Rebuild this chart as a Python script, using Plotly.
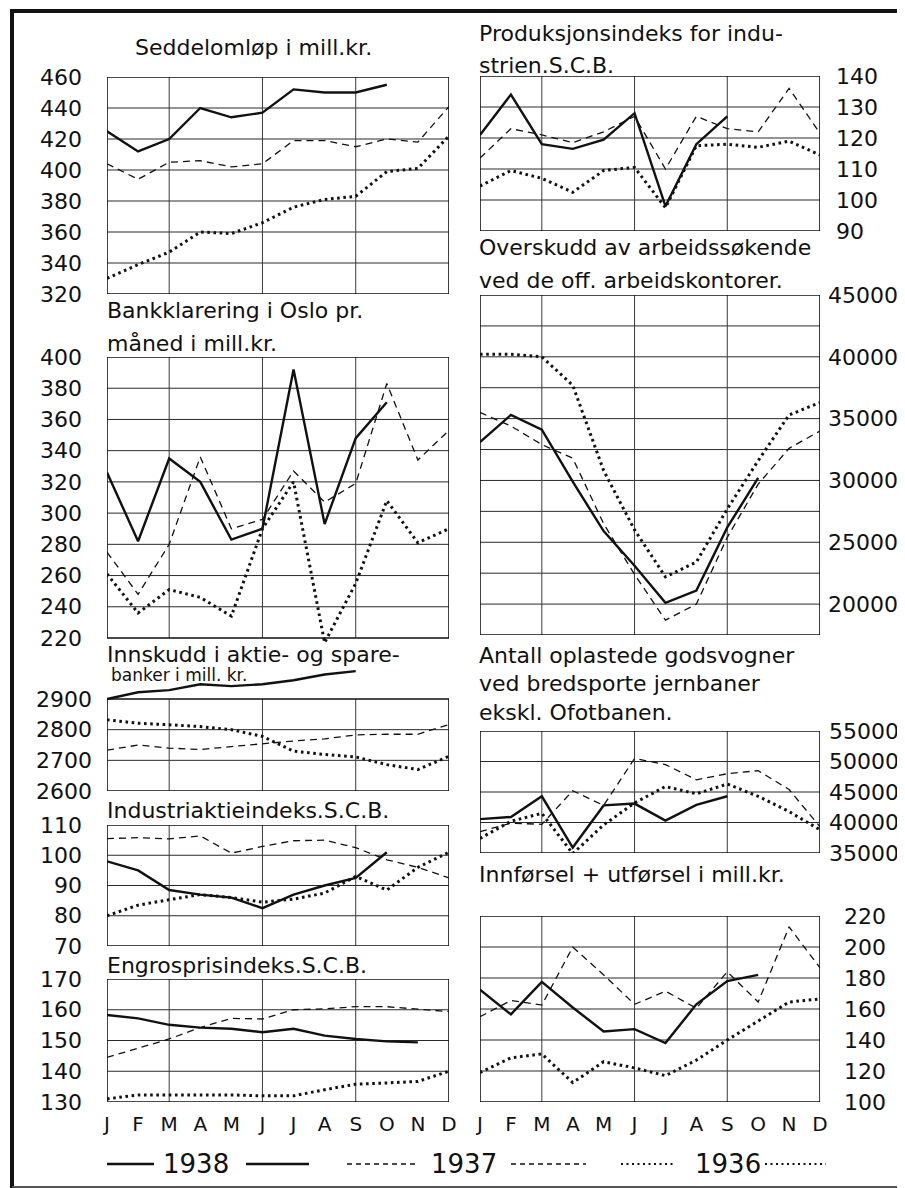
import plotly.graph_objects as go

# ---------------- data ----------------
months = ["J", "F", "M", "A", "M", "J", "J", "A", "S", "O", "N", "D"]
years = ["1938", "1937", "1936"]

# Seddelomløp i mill.kr.
sed_1938 = [425, 412, 420, 440, 434, 437, 452, 450, 450, 455]
sed_1937 = [404, 394, 405, 406, 402, 404, 419, 419, 415, 420, 418, 441]
sed_1936 = [330, 339, 347, 360, 359, 366, 376, 381, 383, 399, 401, 422]

# Bankklarering i Oslo pr. måned i mill.kr.
bank_1938 = [326, 282, 335, 320, 283, 290, 392, 293, 348, 371]
bank_1937 = [275, 248, 280, 336, 290, 296, 327, 307, 319, 383, 334, 353]
bank_1936 = [261, 236, 251, 246, 234, 290, 320, 217, 255, 308, 281, 290]

# Innskudd i aktie- og sparebanker i mill. kr.
inn_1938 = [2900, 2922, 2929, 2948, 2942, 2948, 2961, 2980, 2991]
inn_1937 = [2733, 2750, 2740, 2735, 2745, 2755, 2763, 2770, 2783, 2785, 2785, 2817]
inn_1936 = [2832, 2821, 2816, 2810, 2800, 2778, 2730, 2719, 2711, 2686, 2670, 2713]

# Industriaktieindeks S.C.B.
akt_1938 = [98, 95, 88.5, 87, 86, 82.5, 87, 90, 92.5, 101]
akt_1937 = [105.5, 105.8, 105.4, 106.4, 100.7, 102.9, 104.8, 105, 102.5, 98.5, 96, 92.5]
akt_1936 = [80, 83.5, 85.3, 87, 86, 84.5, 85.5, 87.5, 93, 88.5, 96, 101]

# Engrosprisindeks S.C.B.
eng_1938 = [158.3, 157.2, 155.1, 154.2, 153.8, 152.7, 153.8, 151.6, 150.5, 149.7, 149.4]
eng_1937 = [144.5, 147.5, 150.5, 154.2, 157.2, 157, 160, 160.3, 161, 161, 160.3, 159.4]
eng_1936 = [131, 132.3, 132.3, 132.3, 132.3, 132, 132, 134, 135.8, 136.2, 136.7, 140]

# Produksjonsindeks for industrien S.C.B.
prod_1938 = [121, 134, 118, 116.5, 119.5, 128, 98, 118, 127]
prod_1937 = [113.5, 123, 121, 118.5, 122, 127, 110, 127, 123, 122, 136, 121.5]
prod_1936 = [104.5, 109.5, 107, 102.5, 109.5, 110.5, 97.5, 117.5, 118, 117, 119, 114.5]

# Overskudd av arbeidssøkende
ovr_1938 = [33100, 35300, 34100, 29900, 25900, 23100, 20100, 21100, 26200, 30200]
ovr_1937 = [35500, 34400, 32900, 31800, 26500, 22400, 18700, 20000, 25400, 29700, 32600, 34000]
ovr_1936 = [40200, 40200, 40000, 37700, 30800, 26000, 22200, 23400, 27700, 31600, 35300, 36300]

# Antall oplastede godsvogner
gods_1938 = [40550, 40900, 44300, 35900, 42800, 43100, 40300, 42900, 44300]
gods_1937 = [38500, 39900, 39700, 45200, 42800, 50500, 49500, 47000, 48000, 48500, 45400, 39300]
gods_1936 = [37400, 40200, 41500, 34900, 39600, 43200, 45900, 44700, 46300, 44300, 41800, 38800]

# Innførsel + utførsel i mill.kr.
ut_1938 = [172.5, 156.5, 177.5, 161, 145.5, 147, 138, 163, 178, 182]
ut_1937 = [155, 165.5, 162.5, 200, 182, 163, 171.5, 160.5, 184, 164.5, 213, 186.5]
ut_1936 = [119, 128.5, 131, 112.5, 126, 122, 117, 127, 140, 152, 164.5, 166.5]

# tick values
sed_ticks = [320, 340, 360, 380, 400, 420, 440, 460]
bank_ticks = [220, 240, 260, 280, 300, 320, 340, 360, 380, 400]
inn_ticks = [2600, 2700, 2800, 2900]
akt_ticks = [70, 80, 90, 100, 110]
eng_ticks = [130, 140, 150, 160, 170]
prod_ticks = [90, 100, 110, 120, 130, 140]
ovr_ticks = [20000, 25000, 30000, 35000, 40000, 45000]
ovr_grid = [17500, 20000, 22500, 25000, 27500, 30000, 32500, 35000, 37500, 40000, 42500, 45000]
gods_ticks = [35000, 40000, 45000, 50000, 55000]
ut_ticks = [100, 120, 140, 160, 180, 200, 220]

# ---------------- layout helpers ----------------
W, H = 905, 1188
FONT = "DejaVu Sans"
INK = "#111111"


def px(x):
    return x / W


def py(y):
    return 1 - y / H


LEFT = (99, 441)
RIGHT = (472, 812)

panels = [
    dict(s=(sed_1938, sed_1937, sed_1936), cols=LEFT, T=69, B=286, lo=320, hi=460,
         alo=320, ahi=460, ticks=sed_ticks, grid=sed_ticks, side="left", so=24),
    dict(s=(bank_1938, bank_1937, bank_1936), cols=LEFT, T=349, B=630, lo=220, hi=400,
         alo=214, ahi=400, ticks=bank_ticks, grid=bank_ticks, side="left", so=24),
    dict(s=(inn_1938, inn_1937, inn_1936), cols=LEFT, T=691, B=783, lo=2600, hi=2900,
         alo=2600, ahi=3008, ticks=inn_ticks, grid=inn_ticks, side="left", so=14),
    dict(s=(akt_1938, akt_1937, akt_1936), cols=LEFT, T=817, B=938, lo=70, hi=110,
         alo=70, ahi=110, ticks=akt_ticks, grid=akt_ticks, side="left", so=24),
    dict(s=(eng_1938, eng_1937, eng_1936), cols=LEFT, T=971, B=1094, lo=130, hi=170,
         alo=130, ahi=170, ticks=eng_ticks, grid=eng_ticks, side="left", so=24, months=True),
    dict(s=(prod_1938, prod_1937, prod_1936), cols=RIGHT, T=68, B=223, lo=90, hi=140,
         alo=90, ahi=140, ticks=prod_ticks, grid=prod_ticks, side="right", so=15),
    dict(s=(ovr_1938, ovr_1937, ovr_1936), cols=RIGHT, T=287, B=627, lo=17500, hi=45000,
         alo=17500, ahi=45000, ticks=ovr_ticks, grid=ovr_grid, side="right", so=7),
    dict(s=(gods_1938, gods_1937, gods_1936), cols=RIGHT, T=723, B=845, lo=35000, hi=55000,
         alo=35000, ahi=55000, ticks=gods_ticks, grid=gods_ticks, side="right", so=8),
    dict(s=(ut_1938, ut_1937, ut_1936), cols=RIGHT, T=908, B=1094, lo=100, hi=220,
         alo=100, ahi=220, ticks=ut_ticks, grid=ut_ticks, side="right", so=23, months=True),
]

styles = [
    dict(color=INK, width=2.4, dash="solid"),
    dict(color=INK, width=1.3, dash="7px,5px"),
    dict(color=INK, width=3.0, dash="2.6px,3.6px"),
]

fig = go.Figure()
shapes = []

for i, p in enumerate(panels, start=1):
    xa = "x" if i == 1 else f"x{i}"
    ya = "y" if i == 1 else f"y{i}"
    xkey = "xaxis" if i == 1 else f"xaxis{i}"
    ykey = "yaxis" if i == 1 else f"yaxis{i}"
    ppu = (p["B"] - p["T"]) / (p["hi"] - p["lo"])
    top = p["T"] - (p["ahi"] - p["hi"]) * ppu
    bot = p["B"] + (p["lo"] - p["alo"]) * ppu

    for ser, yr, st in zip(p["s"], years, styles):
        fig.add_trace(go.Scatter(
            x=list(range(len(ser))), y=ser, mode="lines", name=yr,
            line=st, xaxis=xa, yaxis=ya, showlegend=False, hoverinfo="skip"))

    show_m = p.get("months", False)
    fig.layout[xkey] = dict(
        domain=[px(p["cols"][0]), px(p["cols"][1])], range=[0, 11],
        anchor=ya, showgrid=False, zeroline=False, showline=False,
        tickmode="array", tickvals=list(range(12)), ticktext=months,
        showticklabels=show_m, ticks="", ticklabelstandoff=8,
        tickfont=dict(family=FONT, size=20, color=INK), automargin=False,
        fixedrange=True)
    fig.layout[ykey] = dict(
        domain=[py(bot), py(top)], range=[p["alo"], p["ahi"]],
        anchor=xa, side=p["side"], showgrid=False, zeroline=False, showline=False,
        tickmode="array", tickvals=p["ticks"], tickformat="d", ticks="",
        ticklabelstandoff=p["so"],
        tickfont=dict(family=FONT, size=22, color=INK), automargin=False,
        fixedrange=True)

    for g in p["grid"]:
        if p["lo"] < g < p["hi"]:
            shapes.append(dict(type="line", xref=xa, yref=ya, x0=0, x1=11, y0=g, y1=g,
                               line=dict(color="#2a2a2a", width=1), layer="below"))
    for gx in (2, 5, 8):
        shapes.append(dict(type="line", xref=xa, yref=ya, x0=gx, x1=gx,
                           y0=p["lo"], y1=p["hi"],
                           line=dict(color="#3a3a3a", width=1), layer="below"))
    shapes.append(dict(type="rect", xref=xa, yref=ya, x0=0, x1=11,
                       y0=p["lo"], y1=p["hi"], line=dict(color=INK, width=1.6),
                       layer="below"))

# outer border of the sheet
shapes += [
    dict(type="line", xref="paper", yref="paper", x0=px(2), x1=px(903), y0=py(3), y1=py(3),
         line=dict(color=INK, width=4)),
    dict(type="line", xref="paper", yref="paper", x0=px(4), x1=px(4), y0=py(2), y1=py(1182),
         line=dict(color=INK, width=4)),
    dict(type="line", xref="paper", yref="paper", x0=px(4), x1=px(903), y0=py(1179), y1=py(1179),
         line=dict(color="#555555", width=2)),
    dict(type="line", xref="paper", yref="paper", x0=px(901), x1=px(901), y0=py(3), y1=py(1180),
         line=dict(color="#888888", width=1)),
]

# key at the bottom
LY = 1156
key_lines = [
    (99, 146, styles[0]), (238, 301, styles[0]),
    (339, 411, dict(color=INK, width=1.4, dash="5px,4px")),
    (503, 578, dict(color=INK, width=1.4, dash="5px,4px")),
    (613, 665, dict(color=INK, width=2.2, dash="2px,3.5px")),
    (757, 818, dict(color=INK, width=2.2, dash="2px,3.5px")),
]
for x0, x1, st in key_lines:
    shapes.append(dict(type="line", xref="paper", yref="paper", x0=px(x0), x1=px(x1),
                       y0=py(LY), y1=py(LY), line=st))

annotations = []


def label(text, x, y, size=22, anchor="left"):
    annotations.append(dict(text=text, x=px(x), y=py(y), xref="paper", yref="paper",
                            xanchor=anchor, yanchor="middle", showarrow=False,
                            font=dict(family=FONT, size=size, color=INK)))


label("Seddelomløp i mill.kr.", 125, 39)
label("Produksjonsindeks for indu-", 469, 25)
label("strien.S.C.B.", 469, 57)
label("Bankklarering i Oslo pr.", 97, 303)
label("måned i mill.kr.", 97, 335)
label("Overskudd av arbeidssøkende", 469, 240)
label("ved de off. arbeidskontorer.", 469, 272)
label("Innskudd i aktie- og spare-", 97, 646)
label("banker i mill. kr.", 101, 667, size=17)
label("Antall oplastede godsvogner", 469, 647)
label("ved bredsporte jernbaner", 469, 675)
label("ekskl. Ofotbanen.", 469, 704)
label("Industriaktieindeks.S.C.B.", 97, 802)
label("Innførsel + utførsel i mill.kr.", 469, 866)
label("Engrosprisindeks.S.C.B.", 97, 957)

label(years[0], 188, 1156, size=26, anchor="center")
label(years[1], 456, 1156, size=26, anchor="center")
label(years[2], 720, 1156, size=26, anchor="center")

fig.update_layout(
    width=W, height=H, autosize=False,
    margin=dict(l=0, r=0, t=0, b=0, pad=0),
    paper_bgcolor="white", plot_bgcolor="rgba(0,0,0,0)",
    shapes=shapes, annotations=annotations, showlegend=False,
    font=dict(family=FONT, color=INK),
)

fig.write_html("out.html")
